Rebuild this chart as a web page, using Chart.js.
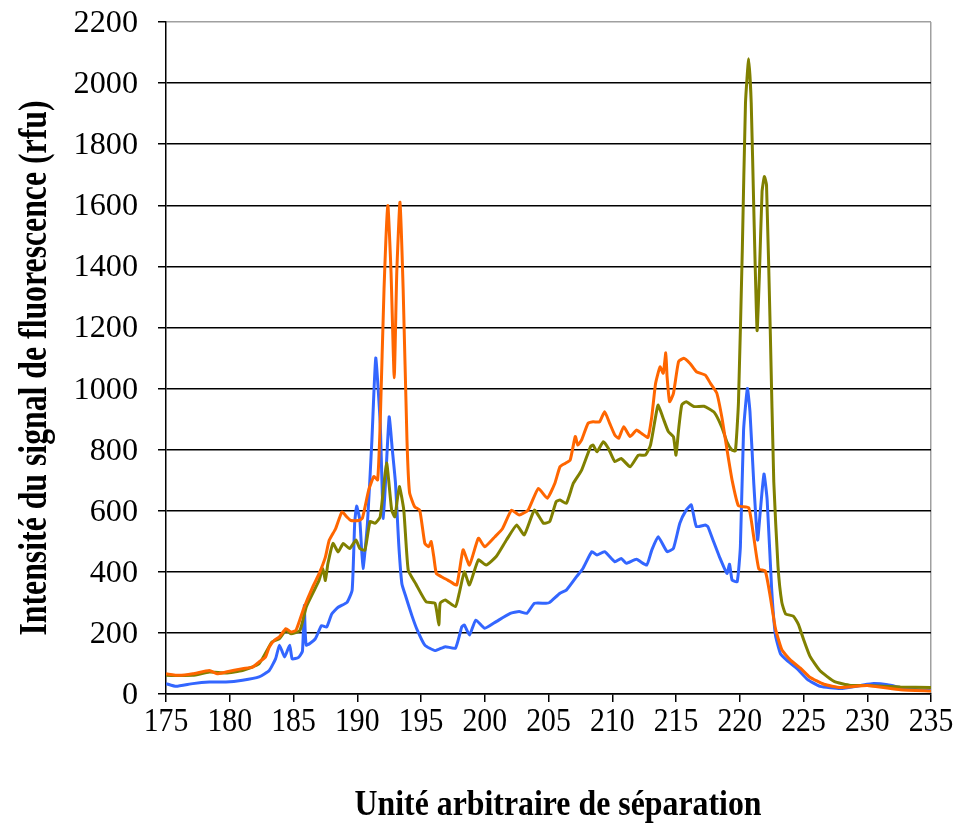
<!DOCTYPE html>
<html>
<head>
<meta charset="utf-8">
<title>Intensité du signal de fluorescence</title>
<script src="https://cdn.jsdelivr.net/npm/chart.js@4/dist/chart.umd.min.js"></script>
<style>
  html, body { margin: 0; padding: 0; background: #fff; }
  #wrap { width: 957px; height: 823px; }
</style>
</head>
<body>
<div id="wrap"><canvas id="chart" width="957" height="823"></canvas></div>
<script>
// axes
const xTitle = 'Unité arbitraire de séparation';
const yTitle = 'Intensité du signal de fluorescence (rfu)';
const xMin = 175, xMax = 235, xStep = 5;
const yMin = 0, yMax = 2200, yStep = 200;

// courbe orange
const orangeX = [175, 176, 177.1, 178.4, 179, 179.7, 181, 181.8, 182.3, 182.8, 183.1, 183.5, 183.9, 184.4, 184.8, 185.2, 185.8,
  186.5, 187, 187.5, 187.8, 188.3, 188.8, 189.2, 189.5, 190.1, 190.4, 190.9, 191.3, 191.6, 191.8, 192.1, 192.4, 192.65, 192.9,
  193.1, 193.35, 193.6, 193.9, 194.1, 194.5, 194.9, 195.3, 195.6, 195.8, 196, 196.2, 196.6, 197.1, 197.8, 198.3, 198.8, 199.5,
  200, 200.8, 201.4, 202.1, 202.7, 203.4, 204.2, 204.9, 205.5, 205.9, 206.3, 206.7, 207.1, 207.3, 207.6, 208.1, 208.5, 209,
  209.4, 209.8, 210.2, 210.5, 210.9, 211.4, 211.9, 212.3, 212.8, 213.1, 213.4, 213.75, 214, 214.2, 214.3, 214.5, 214.8, 215.2,
  215.6, 216.1, 216.6, 217.3, 217.7, 218.2, 218.6, 219, 219.4, 219.9, 220.7, 221.1, 221.5, 222, 222.4, 222.8, 223.3, 224,
  224.8, 225.5, 226.6, 227.9, 230, 232.6, 235];
const orangeY = [66, 61, 66, 77, 66, 72, 83, 88, 105, 121, 154, 176, 187, 214, 203, 209, 280,
  350, 393, 448, 503, 541, 596, 579, 568, 568, 575, 668, 712, 701, 887, 1325, 1599, 1380, 1035,
  1380, 1610, 1325, 832, 660, 613, 602, 493, 482, 499, 450, 395, 384, 373, 357, 472, 422, 510,
  482, 515, 542, 602, 586, 602, 673, 641, 690, 744, 755, 766, 843, 815, 832, 886, 891, 891,
  924, 886, 848, 837, 875, 843, 864, 853, 840, 908, 1017, 1071, 1050, 1117, 1039, 957, 984, 1088,
  1099, 1082, 1055, 1044, 1017, 985, 905, 800, 700, 616, 610, 513, 409, 403, 317, 214, 145, 110,
  83, 55, 32, 21, 28, 14, 10];

// courbe olive
const oliveX = [175, 177.1, 178.4, 179.7, 181, 182.3, 183.3, 183.9, 184.4, 184.8, 185.5, 186, 186.5, 187, 187.3, 187.5, 187.7,
  188.1, 188.5, 188.9, 189.4, 189.9, 190.2, 190.6, 191, 191.4, 191.8, 192.3, 192.7, 192.95, 193.3, 193.65, 194, 194.6, 195.4,
  196.1, 196.4, 196.5, 196.9, 197.7, 198, 198.4, 198.8, 199.5, 200.1, 200.9, 201.7, 202.5, 203.1, 203.9, 204.6, 205.1, 205.6,
  205.9, 206.4, 206.95, 207.6, 208.3, 208.5, 208.8, 209.3, 209.7, 210.2, 210.7, 211.4, 212.05, 212.6, 213, 213.4, 213.6, 214,
  214.4, 214.8, 215, 215.2, 215.45, 215.8, 216.4, 217.2, 218, 218.6, 219, 219.4, 219.66, 219.9, 220.2, 220.45, 220.7, 220.9,
  221.1, 221.36, 221.55, 221.75, 221.93, 222.1, 222.4, 222.67, 223, 223.3, 223.6, 224.2, 224.6, 225, 225.5, 226.3, 227.4,
  228.7, 230, 232.6, 235];
const oliveY = [61, 61, 72, 69, 77, 99, 170, 181, 208, 197, 208, 285, 329, 372, 411, 372, 427,
  493, 465, 493, 476, 504, 476, 471, 564, 559, 580, 756, 602, 580, 679, 602, 405, 360, 302,
  297, 226, 297, 308, 286, 330, 400, 357, 439, 422, 450, 504, 553, 521, 602, 559, 565, 630,
  635, 624, 690, 733, 810, 815, 793, 826, 804, 761, 771, 744, 782, 782, 815, 908, 946, 902,
  859, 842, 782, 864, 946, 957, 941, 942, 922, 873, 825, 798, 796, 956, 1453, 1935, 2080, 1935,
  1590, 1190, 1383, 1645, 1694, 1666, 1177, 694, 418, 300, 262, 255, 228, 179, 124, 76, 41,
  28, 28, 23, 21];

// courbe bleue
const blueX = [175, 175.8, 177.1, 178.4, 179.7, 181, 182.3, 183.1, 183.6, 183.9, 184.3, 184.7, 184.9, 185.4, 185.7, 185.85,
  186, 186.7, 187.2, 187.6, 188, 188.5, 189.2, 189.6, 189.8, 189.95, 190.2, 190.45, 190.8, 191.15, 191.45, 191.8, 192.05,
  192.5, 192.75, 193, 193.25, 193.5, 193.8, 194.3, 194.7, 195.3, 196.1, 196.9, 197.7, 198.2, 198.4, 198.8, 199.3, 200,
  200.9, 202, 202.7, 203.3, 203.9, 204.8, 205.1, 205.9, 206.4, 207.2, 207.7, 208.4, 208.8, 209.4, 210.2, 210.7, 211.1,
  211.9, 212.7, 213.1, 213.6, 214.3, 214.8, 215.3, 215.8, 216.2, 216.6, 217.3, 217.5, 217.9, 218.4, 219, 219.2, 219.4,
  219.8, 220.05, 220.3, 220.6, 220.8, 221.1, 221.4, 221.6, 221.9, 222.15, 222.5, 222.8, 223.2, 223.7, 224.5, 225.3,
  226.3, 227.9, 229.5, 230.5, 231.6, 233.1, 235];
const blueY = [34, 25, 34, 39, 39, 45, 56, 77, 116, 160, 121, 160, 115, 120, 140, 290,
  160, 180, 224, 219, 262, 284, 300, 340, 560, 615, 570, 411, 559, 832, 1100, 887, 575,
  907, 800, 690, 493, 361, 320, 255, 210, 160, 142, 155, 150, 220, 226, 193, 242, 215,
  237, 264, 270, 264, 297, 297, 300, 330, 340, 384, 411, 466, 455, 466, 433, 444, 428,
  441, 422, 471, 515, 466, 477, 559, 602, 619, 548, 553, 548, 504, 450, 395, 425, 373,
  368, 483, 864, 1000, 925, 690, 504, 593, 720, 635, 345, 193, 131, 110, 83, 48,
  25, 18, 28, 34, 30, 17, 11];

function toPoints(xs, ys) {
    return xs.map((x, i) => ({x: x, y: ys[i]}));
}

function drawScaled(ctx, text, x, y, sx, sy, rot) {
    ctx.save();
    ctx.translate(x, y);
    if (rot) ctx.rotate(rot);
    ctx.scale(sx, sy);
    ctx.fillText(text, 0, 0);
    ctx.restore();
}

// labels en Times étiré, comme dans l'original
const stretchedLabels = {
    id: 'stretchedLabels',
    afterDraw(chart) {
        const {ctx, scales: {x, y}} = chart;
        ctx.save();
        ctx.fillStyle = '#000';
        ctx.textBaseline = 'alphabetic';

        ctx.font = '31px "Liberation Serif"';
        ctx.textAlign = 'right';
        y.ticks.forEach(t => {
            drawScaled(ctx, String(t.value), 138, y.getPixelForValue(t.value) + 10, 1.04, 1);
        });

        ctx.font = '33px "Liberation Serif"';
        ctx.textAlign = 'center';
        x.ticks.forEach(t => {
            drawScaled(ctx, String(t.value), x.getPixelForValue(t.value), 731, 0.9, 1);
        });

        ctx.font = 'bold 36px "Liberation Serif"';
        let w = ctx.measureText(xTitle).width;
        drawScaled(ctx, xTitle, 558, 815, 407 / w, 1);

        ctx.font = 'bold 40px "Liberation Serif"';
        w = ctx.measureText(yTitle).width;
        drawScaled(ctx, yTitle, 46, 368, 535 / w, 1, -Math.PI / 2);
        ctx.restore();
    }
};

const ctx = document.getElementById('chart').getContext('2d');
new Chart(ctx, {
    type: 'line',
    data: {
        datasets: [
            {label: 'orange', data: toPoints(orangeX, orangeY), borderColor: '#ff6600'},
            {label: 'olive', data: toPoints(oliveX, oliveY), borderColor: '#808000'},
            {label: 'bleu', data: toPoints(blueX, blueY), borderColor: '#3366ff'}
        ]
    },
    options: {
        responsive: false,
        animation: false,
        layout: {padding: {top: 22, right: 26, left: 0, bottom: 0}},
        elements: {
            line: {borderWidth: 3, tension: 0.15, fill: false},
            point: {radius: 0}
        },
        plugins: {
            legend: {display: false},
            tooltip: {enabled: false}
        },
        scales: {
            x: {
                type: 'linear',
                min: xMin,
                max: xMax,
                ticks: {display: false, stepSize: xStep},
                grid: {
                    drawOnChartArea: true,
                    color: c => (c.tick && c.tick.value === xMax) ? '#a0a0a0' : 'rgba(0,0,0,0)',
                    tickColor: '#000',
                    tickLength: 8,
                    lineWidth: 1.5
                },
                border: {color: '#000', width: 1.5},
                afterFit(scale) { scale.height = 129; }
            },
            y: {
                min: yMin,
                max: yMax,
                ticks: {display: false, stepSize: yStep},
                grid: {
                    color: c => (c.tick && c.tick.value === yMax) ? '#a0a0a0' : '#000',
                    tickColor: '#000',
                    tickLength: 8,
                    lineWidth: 1.5
                },
                border: {color: '#000', width: 1.5},
                afterFit(scale) { scale.width = 166; }
            }
        }
    },
    plugins: [stretchedLabels]
});
</script>
</body>
</html>
